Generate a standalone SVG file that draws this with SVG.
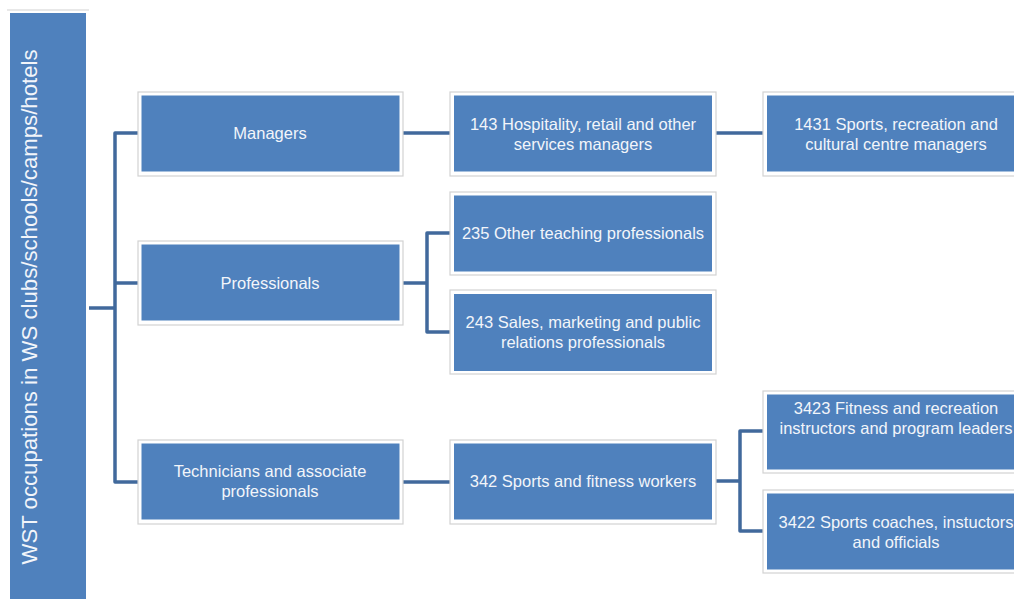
<svg xmlns="http://www.w3.org/2000/svg" width="1014" height="599" viewBox="0 0 1014 599">
  <style>
    .frame { fill: #ffffff; stroke: #d2d2d2; stroke-width: 1.2; }
    .box { fill: #4f81bd; }
    .label { fill: #f2f5fa; font-family: "Liberation Sans", Arial, sans-serif; font-size: 16.5px; text-anchor: middle; }
    .root-label { fill: #f2f5fa; font-family: "Liberation Sans", Arial, sans-serif; font-size: 22px; text-anchor: middle; }
    .link { fill: none; stroke: #41699c; stroke-width: 3.5; stroke-linejoin: round; stroke-linecap: butt; }
  </style>
  <rect width="1014" height="599" fill="#ffffff"/>

  <!-- connectors -->
  <g id="connectors">
    <path class="link" d="M89,308 H115"/>
    <path class="link" d="M138,133 H115 V482 H138"/>
    <path class="link" d="M115,283 H138"/>
    <path class="link" d="M403,133 H450"/>
    <path class="link" d="M716,133 H763"/>
    <path class="link" d="M403,283 H427"/>
    <path class="link" d="M450,233 H427 V332 H450"/>
    <path class="link" d="M403,482 H450"/>
    <path class="link" d="M716,481 H740"/>
    <path class="link" d="M763,431 H740 V531 H763"/>
  </g>

  <!-- root -->
  <g id="root">
    <line x1="7" y1="10" x2="89" y2="10" stroke="#d2d2d2" stroke-width="1.2"/>
    <rect class="box" x="10" y="13" width="76" height="600"/>
    <text class="root-label" transform="translate(37,307) rotate(-90)" textLength="515" lengthAdjust="spacingAndGlyphs">WST occupations in WS clubs/schools/camps/hotels</text>
  </g>

  <!-- level 1 -->
  <g id="managers">
    <rect class="frame" x="138" y="92" width="265" height="84"/>
    <rect class="box" x="141.5" y="95.5" width="258" height="76"/>
    <text class="label" x="270" y="139">Managers</text>
  </g>
  <g id="professionals">
    <rect class="frame" x="138" y="241" width="265" height="84"/>
    <rect class="box" x="141.5" y="244.5" width="258" height="76"/>
    <text class="label" x="270" y="289">Professionals</text>
  </g>
  <g id="technicians">
    <rect class="frame" x="138" y="440" width="265" height="84"/>
    <rect class="box" x="141.5" y="443.5" width="258" height="76"/>
    <text class="label" x="270" y="477">Technicians and associate</text>
    <text class="label" x="270" y="496.5">professionals</text>
  </g>

  <!-- level 2 -->
  <g id="n143">
    <rect class="frame" x="450" y="92" width="266" height="84"/>
    <rect class="box" x="454" y="95.5" width="258" height="76"/>
    <text class="label" x="583" y="130">143 Hospitality, retail and other</text>
    <text class="label" x="583" y="149.5">services managers</text>
  </g>
  <g id="n235">
    <rect class="frame" x="450" y="192" width="266" height="83"/>
    <rect class="box" x="454" y="195.5" width="258" height="76"/>
    <text class="label" x="583" y="239">235 Other teaching professionals</text>
  </g>
  <g id="n243">
    <rect class="frame" x="450" y="290" width="266" height="84"/>
    <rect class="box" x="454" y="294" width="258" height="77"/>
    <text class="label" x="583" y="328">243 Sales, marketing and public</text>
    <text class="label" x="583" y="347.5">relations professionals</text>
  </g>
  <g id="n342">
    <rect class="frame" x="450" y="440" width="266" height="84"/>
    <rect class="box" x="454" y="443.5" width="258" height="76"/>
    <text class="label" x="583" y="487">342 Sports and fitness workers</text>
  </g>

  <!-- level 3 -->
  <g id="n1431">
    <rect class="frame" x="763" y="92" width="266" height="84"/>
    <rect class="box" x="767" y="95.5" width="258" height="76"/>
    <text class="label" x="896" y="130">1431 Sports, recreation and</text>
    <text class="label" x="896" y="149.5">cultural centre managers</text>
  </g>
  <g id="n3423">
    <rect class="frame" x="763" y="391" width="266" height="82"/>
    <rect class="box" x="767" y="394.5" width="258" height="75"/>
    <text class="label" x="896" y="414">3423 Fitness and recreation</text>
    <text class="label" x="896" y="433.5">instructors and program leaders</text>
  </g>
  <g id="n3422">
    <rect class="frame" x="763" y="490" width="266" height="83"/>
    <rect class="box" x="767" y="493.5" width="258" height="76"/>
    <text class="label" x="896" y="528">3422 Sports coaches, instuctors</text>
    <text class="label" x="896" y="547.5">and officials</text>
  </g>
</svg>
